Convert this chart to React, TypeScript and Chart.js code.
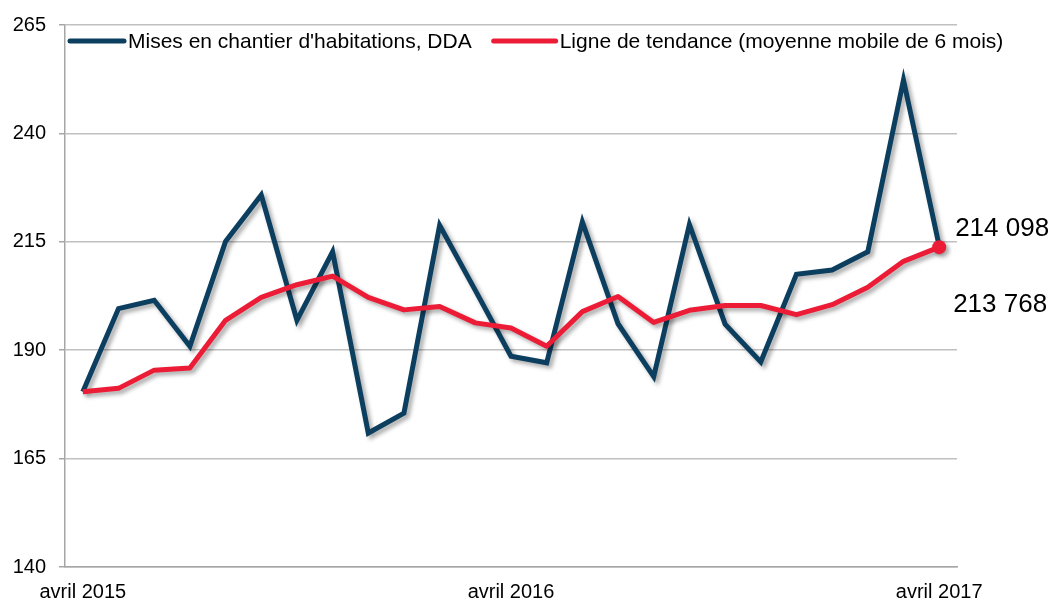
import React, { useEffect, useRef } from "react";
import { Chart, registerables } from "chart.js";

Chart.register(...registerables);

// ---- Data ----
const months = [
  "avril 2015", "mai 2015", "juin 2015", "juillet 2015", "août 2015", "septembre 2015",
  "octobre 2015", "novembre 2015", "décembre 2015", "janvier 2016", "février 2016", "mars 2016",
  "avril 2016", "mai 2016", "juin 2016", "juillet 2016", "août 2016", "septembre 2016",
  "octobre 2016", "novembre 2016", "décembre 2016", "janvier 2017", "février 2017", "mars 2017",
  "avril 2017",
];

const housingStarts = [
  180.4, 199.6, 201.5, 190.9, 215.1, 225.8, 196.9, 212.7, 170.9, 175.5, 218.8, 203.8,
  188.6, 187.1, 219.6, 196.1, 183.9, 219.0, 196.0, 187.3, 207.5, 208.5, 212.7, 252.3,
  214.098,
];

const movingAverage = [
  180.4, 181.2, 185.4, 185.9, 196.9, 202.2, 205.1, 207.1, 202.2, 199.3, 200.1, 196.3,
  195.1, 190.9, 198.9, 202.4, 196.4, 199.2, 200.3, 200.3, 198.2, 200.5, 204.5, 210.5,
  213.768,
];

const seriesNames = [
  "Mises en chantier d'habitations, DDA",
  "Ligne de tendance (moyenne mobile de 6 mois)",
];

const yMin = 140;
const yMax = 265;
const yStep = 25;

const BLUE = "#0c3f5f";
const RED = "#ec1c37";
const FONT = '"Liberation Sans", Arial, Helvetica, sans-serif';

function formatThousands(v: number): string {
  const n = Math.round(v * 1000).toString();
  return n.replace(/\B(?=(\d{3})+(?!\d))/g, " ");
}

const shadowPlugin = {
  id: "lineShadow",
  beforeDatasetDraw(chart: any) {
    const ctx = chart.ctx;
    ctx.save();
    ctx.shadowColor = "rgba(0,0,0,0.35)";
    ctx.shadowBlur = 4;
    ctx.shadowOffsetX = 3;
    ctx.shadowOffsetY = 3;
  },
  afterDatasetDraw(chart: any) {
    chart.ctx.restore();
  },
};

const legendPlugin = {
  id: "insideLegend",
  afterDraw(chart: any) {
    const ctx = chart.ctx;
    const area = chart.chartArea;
    ctx.save();
    ctx.font = `21px ${FONT}`;
    ctx.textBaseline = "alphabetic";
    ctx.textAlign = "left";
    const lineY = area.top + 16;
    const textY = area.top + 22.5;
    let x = area.left + 5;
    const lens = [54, 62];
    [0, 1].forEach((i) => {
      const ds = chart.data.datasets.find((d: any) => d.label === seriesNames[i]);
      ctx.strokeStyle = ds.borderColor;
      ctx.lineWidth = 5;
      ctx.lineCap = "round";
      ctx.beginPath();
      ctx.moveTo(x, lineY);
      ctx.lineTo(x + lens[i], lineY);
      ctx.stroke();
      x += lens[i] + 4;
      ctx.fillStyle = "#000";
      ctx.fillText(ds.label, x, textY);
      x += ctx.measureText(ds.label).width + 22;
    });
    ctx.restore();
  },
};

const endLabelPlugin = {
  id: "endLabels",
  afterDatasetsDraw(chart: any) {
    const ctx = chart.ctx;
    const xs = chart.scales.x;
    const ys = chart.scales.y;
    const last = months.length - 1;
    const px = xs.getPixelForValue(last);
    ctx.save();
    ctx.font = `26px ${FONT}`;
    ctx.fillStyle = "#000";
    ctx.textAlign = "left";
    ctx.textBaseline = "alphabetic";
    const vB = housingStarts[last];
    const vR = movingAverage[last];
    ctx.fillText(formatThousands(vB), px + 16, ys.getPixelForValue(vB) - 10);
    ctx.fillText(formatThousands(vR), px + 14, ys.getPixelForValue(vR) + 65);
    ctx.restore();
  },
};

export default function App() {
  const ref = useRef<HTMLCanvasElement | null>(null);

  useEffect(() => {
    if (!ref.current) return;
    const last = months.length - 1;
    const chart = new Chart(ref.current, {
      type: "line",
      data: {
        labels: months,
        datasets: [
          {
            label: seriesNames[0],
            data: housingStarts,
            borderColor: BLUE,
            backgroundColor: BLUE,
            borderWidth: 5,
            pointRadius: 0,
            tension: 0,
            borderJoinStyle: "miter",
            clip: false,
            order: 1,
          },
          {
            label: seriesNames[1],
            data: movingAverage,
            borderColor: RED,
            backgroundColor: RED,
            borderWidth: 5,
            pointRadius: (c: any) => (c.dataIndex === last ? 7 : 0),
            pointBorderWidth: 0,
            pointBackgroundColor: RED,
            tension: 0,
            borderJoinStyle: "round",
            clip: false,
            order: 0,
          },
        ],
      },
      options: {
        animation: false,
        responsive: false,
        maintainAspectRatio: false,
        layout: { padding: { left: 0, right: 101, top: 23, bottom: 0 } },
        plugins: {
          legend: { display: false },
          tooltip: { enabled: false },
        },
        scales: {
          x: {
            type: "category",
            offset: true,
            grid: { display: false, drawTicks: false },
            border: { display: true, color: "#a6a6a6", width: 1.5 },
            ticks: {
              autoSkip: false,
              maxRotation: 0,
              minRotation: 0,
              padding: 13,
              color: "#000",
              font: { family: FONT, size: 20 },
              callback: function (this: any, value: any) {
                const l = this.getLabelForValue(value);
                return l.startsWith("avril") ? l : "";
              },
            },
            afterFit: (s: any) => {
              s.height = 35;
            },
          },
          y: {
            min: yMin,
            max: yMax,
            grid: {
              color: "#c0c0c0",
              lineWidth: 1.5,
              drawTicks: true,
              tickLength: 6,
              tickColor: "#a6a6a6",
            },
            border: { display: true, color: "#a6a6a6", width: 1.5 },
            ticks: {
              stepSize: yStep,
              padding: 13,
              color: "#000",
              font: { family: FONT, size: 20 },
            },
            afterFit: (s: any) => {
              s.width = 65;
            },
          },
        },
      },
      plugins: [shadowPlugin, endLabelPlugin, legendPlugin],
    });
    return () => chart.destroy();
  }, []);

  return (
    <div style={{ position: "absolute", left: 0, top: 0, width: 1058, height: 602, background: "#fff" }}>
      <canvas ref={ref} width={1058} height={602} style={{ display: "block" }} />
    </div>
  );
}
